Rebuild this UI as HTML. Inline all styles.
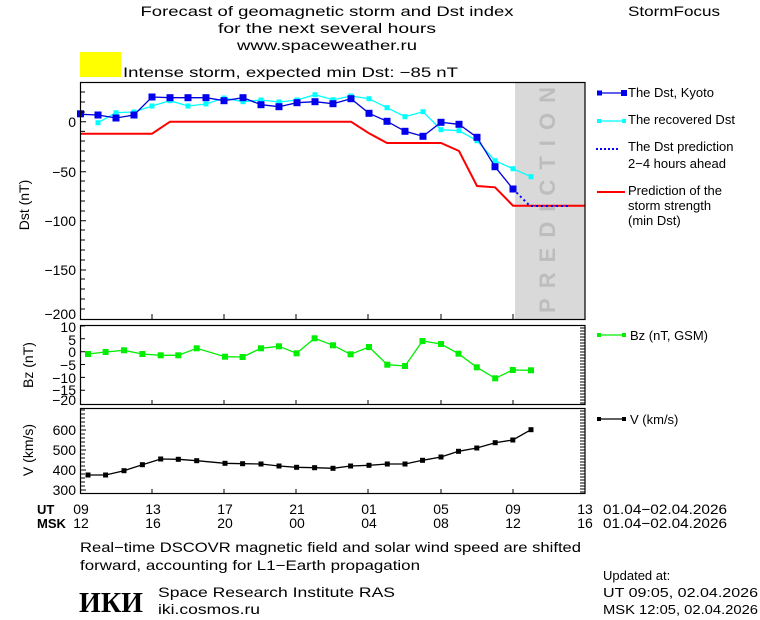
<!DOCTYPE html>
<html><head><meta charset="utf-8"><style>
html,body{margin:0;padding:0;background:#fff;}
svg{display:block;font-family:"Liberation Sans","DejaVu Sans",sans-serif;}
</style></head><body>
<svg width="760" height="620" viewBox="0 0 760 620" xmlns="http://www.w3.org/2000/svg">
<rect width="760" height="620" fill="#fff"/>
<g font-size="14" fill="#000">
<text x="327" y="16" text-anchor="middle" textLength="373" lengthAdjust="spacingAndGlyphs">Forecast of geomagnetic storm and Dst index</text>
<text x="327" y="33" text-anchor="middle" textLength="218" lengthAdjust="spacingAndGlyphs">for the next several hours</text>
<text x="327" y="50" text-anchor="middle" textLength="180" lengthAdjust="spacingAndGlyphs">www.spaceweather.ru</text>
<text x="628" y="16" textLength="92" lengthAdjust="spacingAndGlyphs">StormFocus</text>
<rect x="80" y="52" width="41" height="25" fill="#ffff00"/>
<text x="123" y="77" textLength="335" lengthAdjust="spacingAndGlyphs">Intense storm, expected min Dst: −85 nT</text>
</g>
<!-- Dst panel -->
<rect x="515" y="82" width="70" height="237" fill="#d9d9d9"/>
<text x="555" y="200" font-size="22" font-weight="bold" fill="#bdbdbd" text-anchor="middle" transform="rotate(-90 555 200)" textLength="226" lengthAdjust="spacing">PREDICTION</text>
<polyline fill="none" stroke="#ff0000" stroke-width="2" points="80,133.7 152,133.7 170,121.7 351,121.7 369,133.3 387,143 441,143 459,151 477,186 495,187.3 513,205.7 585,205.7"/>
<polyline fill="none" stroke="#00ffff" stroke-width="1.3" points="98,122.7 116,112.7 134,112 152,106 170,100.7 188,106 206,104 224,98 243,101.7 261,100 279,102 297,100 315,94.7 333,99.7 351,96 369,98.7 387,107.7 405,116.7 423,111.7 441,129.7 459,130.7 477,140.7 495,160.7 513,168.7 531,176.7"/>
<g fill="#00ffff">
<rect x="95.5" y="120.2" width="5" height="5"/><rect x="113.5" y="110.2" width="5" height="5"/><rect x="131.5" y="109.5" width="5" height="5"/><rect x="149.5" y="103.5" width="5" height="5"/><rect x="167.5" y="98.2" width="5" height="5"/><rect x="185.5" y="103.5" width="5" height="5"/><rect x="203.5" y="101.5" width="5" height="5"/><rect x="221.5" y="95.5" width="5" height="5"/><rect x="240.5" y="99.2" width="5" height="5"/><rect x="258.5" y="97.5" width="5" height="5"/><rect x="276.5" y="99.5" width="5" height="5"/><rect x="294.5" y="97.5" width="5" height="5"/><rect x="312.5" y="92.2" width="5" height="5"/><rect x="330.5" y="97.2" width="5" height="5"/><rect x="348.5" y="93.5" width="5" height="5"/><rect x="366.5" y="96.2" width="5" height="5"/><rect x="384.5" y="105.2" width="5" height="5"/><rect x="402.5" y="114.2" width="5" height="5"/><rect x="420.5" y="109.2" width="5" height="5"/><rect x="438.5" y="127.2" width="5" height="5"/><rect x="456.5" y="128.2" width="5" height="5"/><rect x="474.5" y="138.2" width="5" height="5"/><rect x="492.5" y="158.2" width="5" height="5"/><rect x="510.5" y="166.2" width="5" height="5"/><rect x="528.5" y="174.2" width="5" height="5"/>
</g>
<polyline fill="none" stroke="#0000ff" stroke-width="2" stroke-dasharray="2,3" points="513,189 530,206 568,206"/>
<polyline fill="none" stroke="#0000dd" stroke-width="1.3" points="81,114.3 98,115 116,118 134,115 152,97 170,97.7 188,97.7 206,97.7 224,100.7 243,97.7 261,104.7 279,106.7 297,102.7 315,101.7 333,103.7 351,98.7 369,113.3 387,121.3 405,131.3 423,136.3 441,122.3 459,124.3 477,137.3 495,166.7 513,189"/>
<g fill="#0000ee">
<rect x="77" y="110.3" width="7" height="7"/><rect x="94.5" y="111.5" width="7" height="7"/><rect x="112.5" y="114.5" width="7" height="7"/><rect x="130.5" y="111.5" width="7" height="7"/><rect x="148.5" y="93.5" width="7" height="7"/><rect x="166.5" y="94.2" width="7" height="7"/><rect x="184.5" y="94.2" width="7" height="7"/><rect x="202.5" y="94.2" width="7" height="7"/><rect x="220.5" y="97.2" width="7" height="7"/><rect x="239.5" y="94.2" width="7" height="7"/><rect x="257.5" y="101.2" width="7" height="7"/><rect x="275.5" y="103.2" width="7" height="7"/><rect x="293.5" y="99.2" width="7" height="7"/><rect x="311.5" y="98.2" width="7" height="7"/><rect x="329.5" y="100.2" width="7" height="7"/><rect x="347.5" y="95.2" width="7" height="7"/><rect x="365.5" y="109.8" width="7" height="7"/><rect x="383.5" y="117.8" width="7" height="7"/><rect x="401.5" y="127.8" width="7" height="7"/><rect x="419.5" y="132.8" width="7" height="7"/><rect x="437.5" y="118.8" width="7" height="7"/><rect x="455.5" y="120.8" width="7" height="7"/><rect x="473.5" y="133.8" width="7" height="7"/><rect x="491.5" y="163.2" width="7" height="7"/><rect x="509.5" y="185.5" width="7" height="7"/>
</g>
<rect x="80.5" y="82.5" width="504.5" height="237" fill="none" stroke="#000" stroke-width="1.2"/>
<g stroke="#000" stroke-width="1">
<path d="M80,92H85M80,102H85M80,112H85M80,121.7H86M80,131.4H85M80,141H85M80,151H85M80,161H85M80,171.7H86M80,181H85M80,191H85M80,201H85M80,211H85M80,220.7H86M80,230H85M80,240H85M80,250H85M80,260H85M80,270H86M80,279H85M80,289H85M80,299H85M80,309H85"/>
<path d="M152,319V314M224,319V314M296,319V314M368,319V314M441,319V314M513,319V314"/>
</g>
<g font-size="14" text-anchor="end">
<text x="76" y="127">0</text><text x="76" y="177">−50</text><text x="76" y="226">−100</text><text x="76" y="275">−150</text><text x="76" y="319">−200</text>
</g>
<text x="24" y="205" font-size="14" text-anchor="middle" transform="rotate(-90 24 205)" dy="5">Dst (nT)</text>
<!-- legend -->
<g font-size="13">
<line x1="598" y1="93" x2="625" y2="93" stroke="#0000dd" stroke-width="1.3"/><rect x="597" y="90.5" width="5" height="5" fill="#0000ee"/><rect x="621" y="90" width="6" height="6" fill="#0000ee"/>
<text x="628" y="97">The Dst, Kyoto</text>
<line x1="598" y1="121" x2="625" y2="121" stroke="#00ffff" stroke-width="1.3"/><rect x="597" y="119" width="4" height="4" fill="#00ffff"/><rect x="622" y="119" width="4" height="4" fill="#00ffff"/>
<text x="628" y="124">The recovered Dst</text>
<line x1="596" y1="149" x2="620" y2="149" stroke="#0000ff" stroke-width="2" stroke-dasharray="2,2"/>
<text x="628" y="151">The Dst prediction</text><text x="628" y="168">2−4 hours ahead</text>
<line x1="597" y1="192" x2="625" y2="192" stroke="#ff0000" stroke-width="2"/>
<text x="628" y="195">Prediction of the</text><text x="628" y="210">storm strength</text><text x="628" y="225">(min Dst)</text>
<line x1="598" y1="335" x2="625" y2="335" stroke="#00ee00" stroke-width="1.3"/><rect x="597" y="333" width="4" height="4" fill="#00ee00"/><rect x="622" y="333" width="4" height="4" fill="#00ee00"/>
<text x="630" y="340">Bz (nT, GSM)</text>
<line x1="598" y1="419" x2="625" y2="419" stroke="#000" stroke-width="1.3"/><rect x="597" y="417" width="4" height="4"/><rect x="622" y="417" width="4" height="4"/>
<text x="630" y="424">V (km/s)</text>
</g>
<!-- Bz panel -->
<rect x="80.5" y="325.5" width="504.5" height="79" fill="none" stroke="#000" stroke-width="1.2"/>
<path stroke="#000" stroke-width="1" d="M580,328H585M580,331H585M580,334H585M580,337H585M580,340H585M580,343H585M580,346H585M580,349H585M580,352H585M580,355H585M580,358H585M580,361H585M580,364H585M580,367H585M580,370H585M580,373H585M580,376H585M580,379H585M580,382H585M580,385H585M580,388H585M580,391H585M580,394H585M580,397H585M580,400H585M580,403H585 M80,326H85M80,338.8H85M80,351.7H85M80,364.5H85M80,377.4H85M80,390.2H85 M152,404V400M224,404V400M296,404V400M368,404V400M441,404V400M513,404V400"/>
<polyline fill="none" stroke="#00ee00" stroke-width="1.3" points="88,354 105.6,352 124,350.3 142.4,354 160.7,355.3 178.3,355.3 196.7,348.3 225,356.7 242.6,357 261,348.3 279,346.3 296.6,353.3 314.6,338.3 333,345.3 350.6,354.3 369,347 387.3,364.7 405,366 422.5,341 441,344 458.5,353.7 476.8,367.3 495.2,378.3 512.8,370 531,370.3"/>
<g fill="#00ee00">
<rect x="85" y="351" width="6" height="6"/><rect x="102.6" y="349" width="6" height="6"/><rect x="121" y="347.3" width="6" height="6"/><rect x="139.4" y="351" width="6" height="6"/><rect x="157.7" y="352.3" width="6" height="6"/><rect x="175.3" y="352.3" width="6" height="6"/><rect x="193.7" y="345.3" width="6" height="6"/><rect x="222" y="353.7" width="6" height="6"/><rect x="239.6" y="354" width="6" height="6"/><rect x="258" y="345.3" width="6" height="6"/><rect x="276" y="343.3" width="6" height="6"/><rect x="293.6" y="350.3" width="6" height="6"/><rect x="311.6" y="335.3" width="6" height="6"/><rect x="330" y="342.3" width="6" height="6"/><rect x="347.6" y="351.3" width="6" height="6"/><rect x="366" y="344" width="6" height="6"/><rect x="384.3" y="361.7" width="6" height="6"/><rect x="402" y="363" width="6" height="6"/><rect x="419.5" y="338" width="6" height="6"/><rect x="438" y="341" width="6" height="6"/><rect x="455.5" y="350.7" width="6" height="6"/><rect x="473.8" y="364.3" width="6" height="6"/><rect x="492.2" y="375.3" width="6" height="6"/><rect x="509.8" y="367" width="6" height="6"/><rect x="528" y="367.3" width="6" height="6"/>
</g>
<g font-size="14" text-anchor="end">
<text x="76" y="332">10</text><text x="76" y="345">5</text><text x="76" y="357">0</text><text x="76" y="370">−5</text><text x="76" y="383">−10</text><text x="76" y="395">−15</text><text x="76" y="405">−20</text>
</g>
<text x="28" y="365" font-size="14" text-anchor="middle" transform="rotate(-90 28 365)" dy="5">Bz (nT)</text>
<!-- V panel -->
<rect x="80.5" y="408.5" width="504.5" height="85" fill="none" stroke="#000" stroke-width="1.2"/>
<path stroke="#000" stroke-width="1" d="M580,411H585M580,414H585M580,417H585M580,420H585M580,423H585M580,426H585M580,429H585M580,432H585M580,435H585M580,438H585M580,441H585M580,444H585M580,447H585M580,450H585M580,453H585M580,456H585M580,459H585M580,462H585M580,465H585M580,468H585M580,471H585M580,474H585M580,477H585M580,480H585M580,483H585M580,486H585M580,489H585M580,492H585 M80,410H85M80,414H85M80,418H85M80,422H85M80,426H85M80,430H86M80,434H85M80,438H85M80,442H85M80,446H85M80,450H86M80,454H85M80,458H85M80,462H85M80,466H85M80,470H86M80,474H85M80,478H85M80,482H85M80,486H85M80,490H86 M152,493V489M224,493V489M296,493V489M368,493V489M441,493V489M513,493V489"/>
<polyline fill="none" stroke="#000" stroke-width="1.3" points="88,475 105.6,475 124,470.7 142.4,464.7 160.7,459 178.3,459.3 196.7,460.7 225,463.3 242.6,463.7 261,464 279,466 296.6,467.3 314.6,467.7 333,468.3 350.6,466 369,465.3 387.3,464 405,464 422.5,460.3 441,457 458.5,451.3 476.8,448 495.2,442.7 512.8,440 531,429.7"/>
<g>
<rect x="85.5" y="472.5" width="5" height="5"/><rect x="103.1" y="472.5" width="5" height="5"/><rect x="121.5" y="468.2" width="5" height="5"/><rect x="139.9" y="462.2" width="5" height="5"/><rect x="158.2" y="456.5" width="5" height="5"/><rect x="175.8" y="456.8" width="5" height="5"/><rect x="194.2" y="458.2" width="5" height="5"/><rect x="222.5" y="460.8" width="5" height="5"/><rect x="240.1" y="461.2" width="5" height="5"/><rect x="258.5" y="461.5" width="5" height="5"/><rect x="276.5" y="463.5" width="5" height="5"/><rect x="294.1" y="464.8" width="5" height="5"/><rect x="312.1" y="465.2" width="5" height="5"/><rect x="330.5" y="465.8" width="5" height="5"/><rect x="348.1" y="463.5" width="5" height="5"/><rect x="366.5" y="462.8" width="5" height="5"/><rect x="384.8" y="461.5" width="5" height="5"/><rect x="402.5" y="461.5" width="5" height="5"/><rect x="420" y="457.8" width="5" height="5"/><rect x="438.5" y="454.5" width="5" height="5"/><rect x="456" y="448.8" width="5" height="5"/><rect x="474.3" y="445.5" width="5" height="5"/><rect x="492.7" y="440.2" width="5" height="5"/><rect x="510.3" y="437.5" width="5" height="5"/><rect x="528.5" y="427.2" width="5" height="5"/>
</g>
<g font-size="14" text-anchor="end">
<text x="76" y="435">600</text><text x="76" y="455">500</text><text x="76" y="475">400</text><text x="76" y="495">300</text>
</g>
<text x="28" y="450" font-size="14" text-anchor="middle" transform="rotate(-90 28 450)" dy="5">V (km/s)</text>
<!-- time axis -->
<g font-size="14">
<text x="37" y="514" font-weight="bold" font-size="13">UT</text>
<text x="37" y="528" font-weight="bold" font-size="13">MSK</text>
<g text-anchor="middle">
<text x="81" y="514">09</text><text x="153" y="514">13</text><text x="225" y="514">17</text><text x="297" y="514">21</text><text x="369" y="514">01</text><text x="441" y="514">05</text><text x="513" y="514">09</text><text x="585" y="514">13</text>
<text x="81" y="528">12</text><text x="153" y="528">16</text><text x="225" y="528">20</text><text x="297" y="528">00</text><text x="369" y="528">04</text><text x="441" y="528">08</text><text x="513" y="528">12</text><text x="585" y="528">16</text>
</g>
<text x="603" y="514" textLength="124" lengthAdjust="spacingAndGlyphs">01.04−02.04.2026</text>
<text x="603" y="528" textLength="124" lengthAdjust="spacingAndGlyphs">01.04−02.04.2026</text>
<text x="80" y="552" textLength="501" lengthAdjust="spacingAndGlyphs">Real−time DSCOVR magnetic field and solar wind speed are shifted</text>
<text x="80" y="570" textLength="340" lengthAdjust="spacingAndGlyphs">forward, accounting for L1−Earth propagation</text>
<text x="158" y="597" textLength="237" lengthAdjust="spacingAndGlyphs">Space Research Institute RAS</text>
<text x="158" y="614" textLength="102" lengthAdjust="spacingAndGlyphs">iki.cosmos.ru</text>
<text x="603" y="580" font-size="13">Updated at:</text>
<text x="603" y="597" font-size="13" textLength="155" lengthAdjust="spacingAndGlyphs">UT   09:05, 02.04.2026</text>
<text x="603" y="614" font-size="13" textLength="155" lengthAdjust="spacingAndGlyphs">MSK 12:05, 02.04.2026</text>
</g>
<text x="79" y="612" font-family="'Liberation Serif',serif" font-weight="bold" font-size="29" textLength="64" lengthAdjust="spacingAndGlyphs">ИКИ</text>
</svg>
</body></html>
